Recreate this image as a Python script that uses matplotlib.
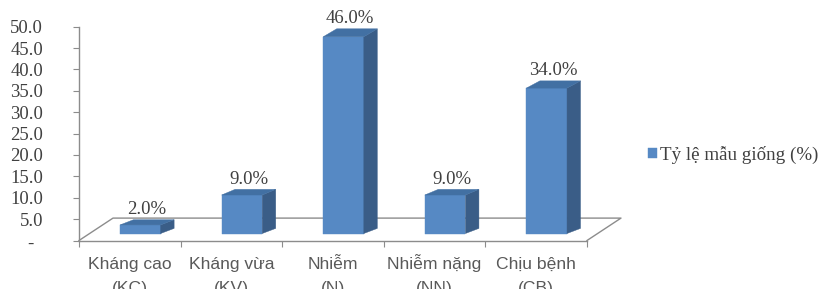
import numpy as np
import matplotlib
matplotlib.use('Agg')
import matplotlib.pyplot as plt
from matplotlib.patches import Polygon
from matplotlib.transforms import ScaledTranslation, blended_transform_factory

# Dữ liệu
categories = ['Kháng cao\n(KC)', 'Kháng vừa\n(KV)', 'Nhiễm\n(N)', 'Nhiễm nặng\n(NN)', 'Chịu bệnh\n(CB)']
values = [2.0, 9.0, 46.0, 9.0, 34.0]
series_name = 'Tỷ lệ mẫu giống (%)'
y_ticks = [0, 5, 10, 15, 20, 25, 30, 35, 40, 45, 50]

serif = ['Liberation Serif', 'DejaVu Serif']
sans = ['Liberation Sans', 'DejaVu Sans']
c_front = '#5689c4'
c_side = '#3a5d87'
c_top = '#4270a3'
c_axis = '#8c8c8c'

fig = plt.figure(figsize=(8.2, 2.89), dpi=100)
ax = fig.add_axes([79 / 820, 48.5 / 289, 508 / 820, 213.8 / 289])
ax.set_xlim(-0.5, 4.5)
ax.set_ylim(0, 50)

# пиксели -> единицы данных
ux = 508 / 5
uy = 213.8 / 50
floor_dx, floor_dy = 34 / ux, 22.4 / uy
shift_x, shift_y = 10.5 / ux, 7 / uy
side_dx = 13.5 / ux


def side_dy(y):
    return (5 + 0.063 * y) / uy


# Пол (3D)
ax.plot([-0.5, -0.5 + floor_dx, 4.5 + floor_dx, 4.5], [0, floor_dy, floor_dy, 0],
        color=c_axis, lw=1, clip_on=False, zorder=1)

x = np.arange(len(categories))
bars = ax.bar(x + shift_x, values, width=0.4, bottom=shift_y, color=c_front,
              edgecolor=c_front, lw=0.3, zorder=3, label=series_name, clip_on=False)

for rect, v in zip(bars, values):
    x0 = rect.get_x()
    x1 = x0 + rect.get_width()
    y0 = rect.get_y()
    y1 = y0 + rect.get_height()
    side = Polygon([(x1, y0), (x1 + side_dx, y0 + side_dy(y0)),
                    (x1 + side_dx, y1 + side_dy(y1)), (x1, y1)],
                   closed=True, fc=c_side, ec=c_side, lw=0.3, zorder=3, clip_on=False)
    top = Polygon([(x0, y1), (x1, y1), (x1 + side_dx, y1 + side_dy(y1)),
                   (x0 + side_dx, y1 + side_dy(y1))],
                  closed=True, fc=c_top, ec=c_top, lw=0.3, zorder=3, clip_on=False)
    ax.add_patch(side)
    ax.add_patch(top)
    ax.annotate(f'{v:.1f}%', xy=(x0 + rect.get_width() / 2 + side_dx / 2, y1 + side_dy(y1)),
                xytext=(0, 4), textcoords='offset points', ha='center', va='baseline',
                fontsize=13.5, family=serif, color='#404040', annotation_clip=False)

# Оси
for s in ['top', 'right']:
    ax.spines[s].set_visible(False)
for s in ['left', 'bottom']:
    ax.spines[s].set_color(c_axis)
    ax.spines[s].set_linewidth(1)

ylabels = ['-' if t == 0 else f'{t:.1f}' for t in y_ticks]
ax.set_yticks(y_ticks, ylabels, fontfamily=serif, fontsize=13.4, color='#404040')
ax.tick_params(axis='y', direction='out', length=4.3, color=c_axis, pad=21.5)
zero_lbl = ax.get_yticklabels()[0]
zero_lbl.set_transform(zero_lbl.get_transform() + ScaledTranslation(-10 / 100, -2 / 100, fig.dpi_scale_trans))

ax.set_xticks(np.arange(len(categories) + 1) - 0.5, [''] * (len(categories) + 1))
ax.tick_params(axis='x', which='major', direction='out', length=4.3, color=c_axis)

# Подписи категорий: каждая строка отдельно, чтобы базовые линии совпадали
trans = blended_transform_factory(ax.transData, ax.transAxes)
for xi, cat in zip(x, categories):
    for k, line in enumerate(cat.split('\n')):
        off = ScaledTranslation(0, -(28.8 + 23.3 * k) / 100, fig.dpi_scale_trans)
        ax.text(xi, 0, line, transform=trans + off, ha='center', va='baseline',
                fontfamily=sans, fontsize=12.6, color='#595959', clip_on=False)

ax.legend(handles=[bars], loc='center left', bbox_to_anchor=(648 / 820, 134 / 289),
          bbox_transform=fig.transFigure, frameon=False, borderpad=0, borderaxespad=0,
          handlelength=0.47, handleheight=0.47, handletextpad=0.17,
          prop={'family': serif, 'size': 13.7}, labelcolor='#404040')

fig.savefig('out.png', dpi=100)
